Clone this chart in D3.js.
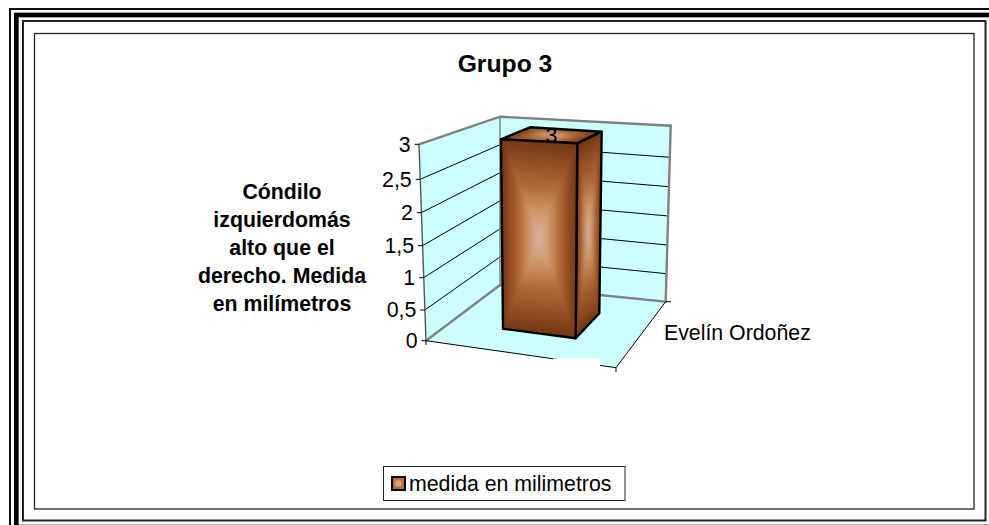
<!DOCTYPE html>
<html><head><meta charset="utf-8">
<script src="https://cdn.jsdelivr.net/npm/d3@7/dist/d3.min.js"></script>
<style>html,body{margin:0;padding:0;background:#fff;overflow:hidden}svg{display:block}text{font-family:"Liberation Sans",Arial,sans-serif;fill:#000}</style>
</head><body><div id="c"></div>
<script>
const chartTitle = "Grupo 3";
const yTitleLines = ["Cóndilo","izquierdomás","alto que el","derecho. Medida","en milímetros"];
const series = ["Evelín Ordoñez"];
const seriesName = ["medida en milimetros"];
const values = [3];
const tickValues = [0,0.5,1,1.5,2,2.5,3];
const tickLabels = ["0","0,5","1","1,5","2","2,5","3"];

const W=989,H=525;
const svg=d3.select("#c").append("svg").attr("width",W).attr("height",H);
const defs=svg.append("defs");
const blur=defs.append("filter").attr("id","soft").attr("x","-30%").attr("y","-30%").attr("width","160%").attr("height","160%");
blur.append("feGaussianBlur").attr("stdDeviation",2.2);

// frame
const frames=[[10,9,990,530,2,"#111"],[16.3,15,985,512,4.7,"#000"],[23,21,962.5,499.5,2,"#222"],[34.5,33.5,939.5,475.5,1.3,"#222"]];
frames.forEach(f=>svg.append("rect").attr("x",f[0]).attr("y",f[1]).attr("width",f[2]).attr("height",f[3]).attr("fill","none").attr("stroke-width",f[4]).attr("stroke",f[5]));

// corner edges of the 3D box: value -> position (perspective makes them slightly non-linear)
const edge=(bx,tx,ys)=>({x:d3.scaleLinear().domain([0,3]).range([bx,tx]),
  y:d3.scaleLinear().domain(ys.length>2?tickValues:[0,3]).range(ys)});
const fl=edge(426,419,[340.7,310,277.7,245.7,212.7,179.3,144.3]);
const bl=edge(500,500,[285,116.7]);
const br=edge(665.7,670.7,[301.7,273.7,245,216,186.7,157.3,125.7]);
const frontRight=[616,367.7];
const P=(e,v)=>[e.x(v),e.y(v)];
const line=d3.line();
const gW=svg.append("g");
gW.append("path").attr("d",line([P(fl,0),P(bl,0),P(bl,3),P(fl,3)])+"Z").attr("fill","#ccffff");
gW.append("path").attr("d",line([P(bl,0),P(br,0),P(br,3),P(bl,3)])+"Z").attr("fill","#ccffff");
gW.append("path").attr("d",line([P(fl,0),frontRight,P(br,0),P(bl,0)])+"Z").attr("fill","#ccffff");
// grid
tickValues.filter(v=>v>0&&v<3).forEach(v=>gW.append("path").attr("d",line([P(fl,v),P(bl,v),P(br,v)])).attr("fill","none").attr("stroke","#000").attr("stroke-width",1));
// gray box edges
gW.append("path").attr("d",line([P(fl,0),P(bl,0),P(br,0),P(br,3),P(bl,3),P(fl,3)])).attr("fill","none").attr("stroke","#808080").attr("stroke-width",2.4);
gW.append("path").attr("d",line([P(bl,0),P(bl,3)])).attr("stroke","#808080").attr("stroke-width",1.5);
// axes
gW.append("path").attr("d",line([P(fl,3),P(fl,0)])).attr("stroke","#555").attr("stroke-width",1.4);
gW.append("path").attr("d",line([P(fl,0),frontRight,P(br,0)])).attr("fill","none").attr("stroke","#000").attr("stroke-width",1);
tickValues.forEach((v,i)=>{
  const [x,y]=P(fl,v);
  gW.append("line").attr("x1",x-4.5).attr("x2",x).attr("y1",y).attr("y2",y).attr("stroke","#000");
  gW.append("text").attr("x",x-8.5).attr("y",y+7.3).attr("text-anchor","end").attr("font-size",21.3).text(tickLabels[i]);
});
gW.append("line").attr("x1",426).attr("x2",426).attr("y1",340.7).attr("y2",345).attr("stroke","#000");
gW.append("line").attr("x1",616).attr("x2",616).attr("y1",367.7).attr("y2",372).attr("stroke","#000");
gW.append("line").attr("x1",665.7).attr("x2",671).attr("y1",301.7).attr("y2",301.7).attr("stroke","#000");
// white patch on the floor
svg.append("rect").attr("x",553).attr("y",358.5).attr("width",47).attr("height",9).attr("fill","#fff");

// bar: rectangular path gradient built in a unit square, mapped on each face
const stops=[[0,"#713815"],[0.28,"#9c5227"],[0.5,"#b56d3b"],[0.72,"#cf9465"],[1,"#d8b3a5"]];
[["gT",0,-1],["gB",0,1],["gL",-1,0],["gR",1,0]].forEach(d=>{
  const lg=defs.append("linearGradient").attr("id",d[0]).attr("gradientUnits","userSpaceOnUse")
    .attr("x1",d[1]).attr("y1",d[2]).attr("x2",0).attr("y2",0);
  stops.forEach(s=>lg.append("stop").attr("offset",s[0]).attr("stop-color",s[1]));
});
function face(g,pts){
  // pts: TL, TR, BR, BL -> unit square [-1,1]^2 by an affine map
  const [tl,tr,br2,b2]=pts;
  const cx=d3.mean(pts,p=>p[0]),cy=d3.mean(pts,p=>p[1]);
  const a=((tr[0]-tl[0])+(br2[0]-b2[0]))/4,b=((tr[1]-tl[1])+(br2[1]-b2[1]))/4;
  const c=((b2[0]-tl[0])+(br2[0]-tr[0]))/4,d=((b2[1]-tl[1])+(br2[1]-tr[1]))/4;
  const clip="cf"+(face.n=(face.n||0)+1);
  defs.append("clipPath").attr("id",clip).append("path").attr("d",line(pts)+"Z");
  const wrap=g.append("g").attr("clip-path",`url(#${clip})`).append("g").attr("filter","url(#soft)");
  const u=wrap.append("g").attr("transform",`matrix(${a} ${b} ${c} ${d} ${cx} ${cy})`);
  const s=1.25;
  [["gT",[[-s,-s],[s,-s],[0,0]]],["gB",[[-s,s],[s,s],[0,0]]],["gL",[[-s,-s],[-s,s],[0,0]]],["gR",[[s,-s],[s,s],[0,0]]]].forEach(t=>
    u.append("path").attr("d",line(t[1])+"Z").attr("fill",`url(#${t[0]})`).attr("stroke",`url(#${t[0]})`).attr("stroke-width",0.012));
  g.append("path").attr("d",line(pts)+"Z").attr("fill","none").attr("stroke","#000").attr("stroke-width",2.4).attr("stroke-linejoin","round");
}
const barFL=edge(503,501,[328.7,139.3]);
const barFR=edge(575.7,577.3,[338.3,143.3]);
const barBR=edge(599.3,601.7,[313.3,131.7]);
const barBL=edge(527,530,[305,127.3]);
const gB=svg.append("g");
series.forEach((s,i)=>{
  const v=values[i];
  face(gB,[P(barBL,v),P(barBR,v),P(barFR,v),P(barFL,v)]);
  face(gB,[P(barFR,v),P(barBR,v),P(barBR,0),P(barFR,0)]);
  face(gB,[P(barFL,v),P(barFR,v),P(barFR,0),P(barFL,0)]);
  gB.append("text").attr("x",551.5).attr("y",barFL.y(v)+3.2).attr("text-anchor","middle").attr("font-size",21.3).text(String(v).replace(".",","));
  svg.append("text").attr("x",664).attr("y",340).attr("font-size",21.3).text(s);
});

// titles
svg.append("text").attr("x",505).attr("y",71.5).attr("text-anchor","middle").attr("font-size",24.7).attr("font-weight","bold").text(chartTitle);
yTitleLines.forEach((t,i)=>svg.append("text").attr("x",282).attr("y",199+i*28).attr("text-anchor","middle").attr("font-size",21.3).attr("font-weight","bold").text(t));

// legend
svg.append("rect").attr("x",383.5).attr("y",466.5).attr("width",241.5).attr("height",34).attr("fill","#fff").attr("stroke","#222").attr("stroke-width",1);
svg.append("rect").attr("x",391).attr("y",476).attr("width",15).attr("height",15).attr("fill","#000");
svg.append("rect").attr("x",393).attr("y",478).attr("width",11).attr("height",11).attr("fill","#b56d3b");
svg.append("rect").attr("x",395.5).attr("y",480.5).attr("width",6).attr("height",6).attr("fill","#dba37a");
svg.append("text").attr("x",409).attr("y",490.7).attr("font-size",21.3).text(seriesName[0]);
</script></body></html>
